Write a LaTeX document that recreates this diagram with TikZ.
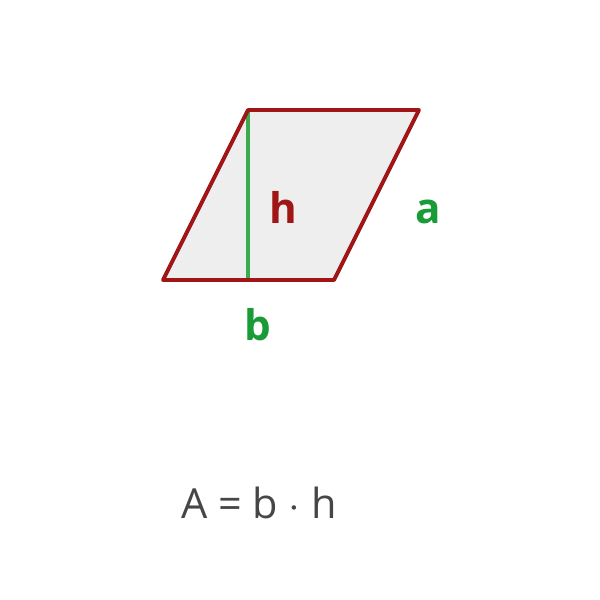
\documentclass[tikz,border=0pt]{standalone}
\usepackage{fontspec}
\setmainfont{Open Sans}
\definecolor{edgecol}{RGB}{160,22,22}
\definecolor{heightcol}{RGB}{60,170,80}
\definecolor{labelcol}{RGB}{25,155,55}
\definecolor{fillcol}{RGB}{238,238,238}
\definecolor{formcol}{RGB}{70,70,70}
\usetikzlibrary{positioning, calc}

\begin{document}
\begin{tikzpicture}
  \useasboundingbox (0,0) rectangle (6,6);

  % Corners of the parallelogram
  \coordinate (A) at (1.63, 3.20);
  \coordinate (B) at (3.34, 3.20);
  \coordinate (C) at (4.19, 4.90);
  \coordinate (D) at (2.48, 4.90);
  % foot of the height
  \coordinate (F) at (2.48, 3.20);

  % Shape
  \fill[fillcol] (A) -- (B) -- (C) -- (D) -- cycle;
  \draw[heightcol, line width=0.9pt] (D) -- (F);
  \draw[edgecol, line width=1.1pt, line join=round]
    (A) -- (B) -- (C) -- (D) -- cycle;

  % Labels
  \node[edgecol, font=\fontsize{12}{12}\selectfont\bfseries] (hlbl)
    at (2.83, 3.93) {h};
  \node[labelcol, font=\fontsize{12}{12}\selectfont\bfseries] (albl)
    at (4.28, 3.88) {a};
  \node[labelcol, font=\fontsize{12}{12}\selectfont\bfseries] (blbl)
    at (2.58, 2.75) {b};

  % Formula
  \node[formcol, font=\fontsize{11.8}{12}\selectfont] (area)
    at (2.59, 0.97) {A = b $\cdot$ h};
\end{tikzpicture}
\end{document}
